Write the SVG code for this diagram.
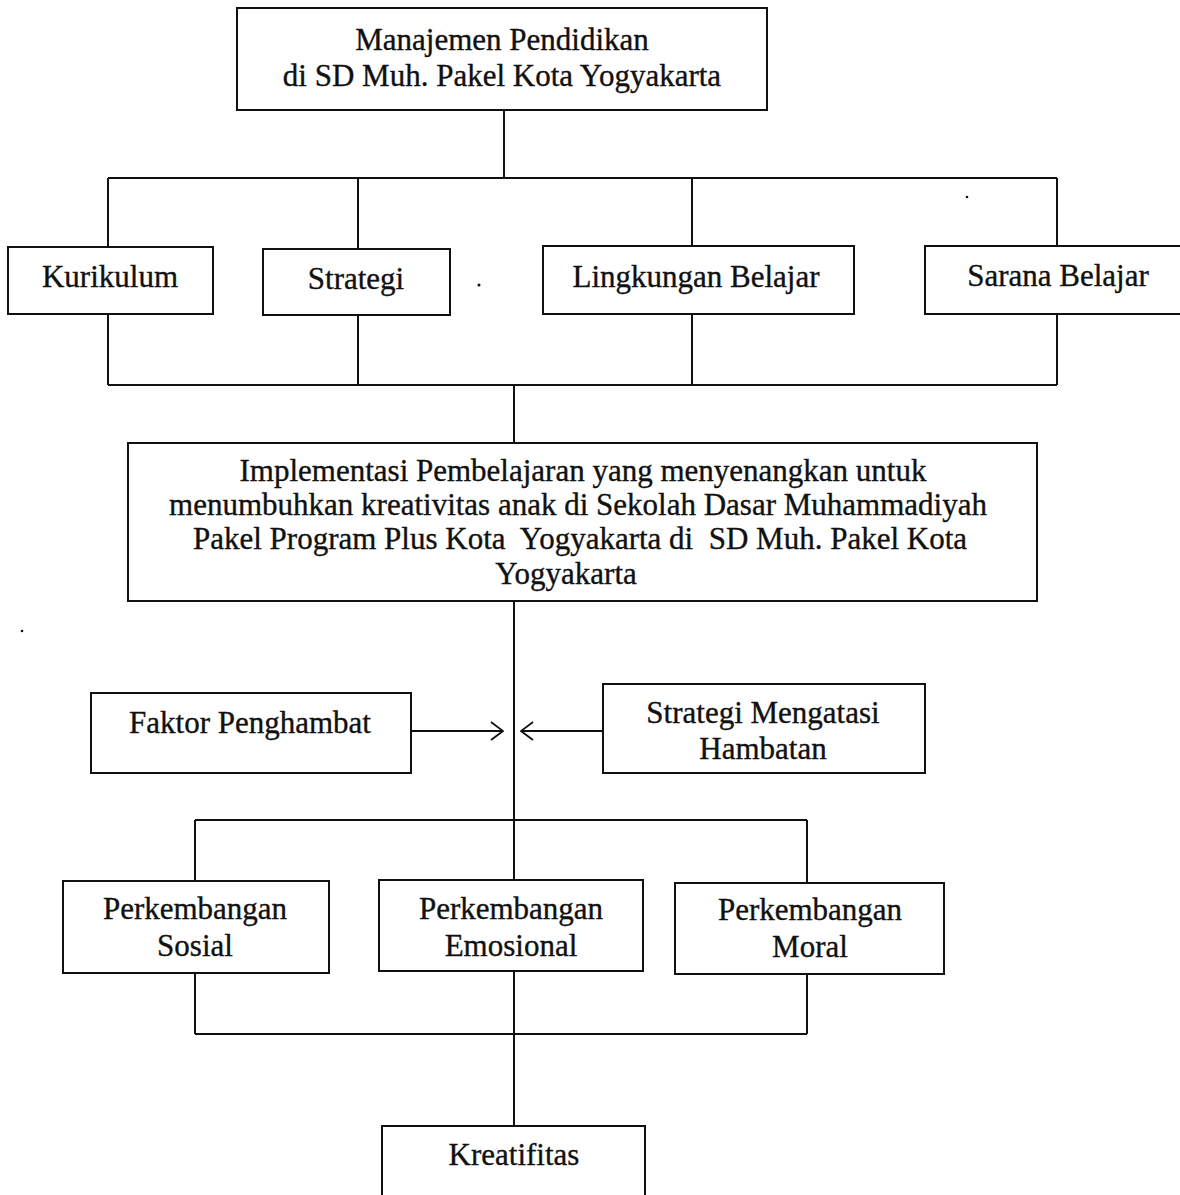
<svg xmlns="http://www.w3.org/2000/svg" width="1180" height="1195" viewBox="0 0 1180 1195">
<style>
.box{fill:#fff;stroke:#111;stroke-width:2}
.t{font-family:"Liberation Serif","Times New Roman",serif;font-size:31px;fill:#111;stroke:#111;stroke-width:0.35;text-anchor:middle;white-space:pre}
.c{fill:none;stroke:#111;stroke-width:2}
</style>
<defs>
<marker id="arr" viewBox="0 0 14 20" refX="13" refY="10" markerWidth="14" markerHeight="20" markerUnits="userSpaceOnUse" orient="auto">
<path d="M1,1 L13,10 L1,19" fill="none" stroke="#111" stroke-width="1.8"/>
</marker>
</defs>
<rect width="1180" height="1195" fill="#fff"/>
<g id="connectors">
<path class="c" d="M504,110 V178 M108,178 H1057 M108,178 V247 M358,178 V249 M692,178 V246 M1057,178 V246"/>
<path class="c" d="M108,314 V385 M358,315 V385 M692,314 V385 M1057,314 V385 M108,385 H1057 M514,385 V443"/>
<path class="c" d="M514,601 V880 M195,820 H807 M195,820 V881 M807,820 V883"/>
<path class="c" d="M195,973 V1034 M514,971 V1126 M807,974 V1034 M195,1034 H807"/>
<path class="c" d="M411,731 H503" marker-end="url(#arr)"/>
<path class="c" d="M603,731 H521" marker-end="url(#arr)"/>
</g>
<g id="n-manajemen">
<rect class="box" x="237" y="8" width="530" height="102"/>
<text class="t" x="502" y="50">Manajemen Pendidikan</text>
<text class="t" x="502" y="86">di SD Muh. Pakel Kota Yogyakarta</text>
</g>
<g id="n-kurikulum">
<rect class="box" x="8" y="247" width="205" height="67"/>
<text class="t" x="110" y="287">Kurikulum</text>
</g>
<g id="n-strategi">
<rect class="box" x="263" y="249" width="187" height="66"/>
<text class="t" x="356" y="289">Strategi</text>
</g>
<g id="n-lingkungan">
<rect class="box" x="543" y="246" width="311" height="68"/>
<text class="t" x="696" y="287">Lingkungan Belajar</text>
</g>
<g id="n-sarana">
<rect class="box" x="925" y="246" width="262" height="68"/>
<text class="t" x="1058" y="286">Sarana Belajar</text>
</g>
<g id="n-implementasi">
<rect class="box" x="128" y="443" width="909" height="158"/>
<text class="t" x="583" y="481">Implementasi Pembelajaran yang menyenangkan untuk</text>
<text class="t" x="578" y="515">menumbuhkan kreativitas anak di Sekolah Dasar Muhammadiyah</text>
<text class="t" x="580" y="549">Pakel Program Plus Kota  Yogyakarta di  SD Muh. Pakel Kota</text>
<text class="t" x="566" y="584">Yogyakarta</text>
</g>
<g id="n-faktor">
<rect class="box" x="91" y="693" width="320" height="80"/>
<text class="t" x="250" y="733">Faktor Penghambat</text>
</g>
<g id="n-strategi-mengatasi">
<rect class="box" x="603" y="684" width="322" height="89"/>
<text class="t" x="763" y="723">Strategi Mengatasi</text>
<text class="t" x="763" y="759">Hambatan</text>
</g>
<g id="n-sosial">
<rect class="box" x="63" y="881" width="266" height="92"/>
<text class="t" x="195" y="919">Perkembangan</text>
<text class="t" x="195" y="956">Sosial</text>
</g>
<g id="n-emosional">
<rect class="box" x="379" y="880" width="264" height="91"/>
<text class="t" x="511" y="919">Perkembangan</text>
<text class="t" x="511" y="956">Emosional</text>
</g>
<g id="n-moral">
<rect class="box" x="675" y="883" width="269" height="91"/>
<text class="t" x="810" y="920">Perkembangan</text>
<text class="t" x="810" y="957">Moral</text>
</g>
<g id="n-kreatifitas">
<rect class="box" x="382" y="1126" width="263" height="80"/>
<text class="t" x="514" y="1165">Kreatifitas</text>
</g>
<g id="specks">
<circle cx="479" cy="285" r="1.5" fill="#111"/>
<circle cx="967" cy="197" r="1.3" fill="#111"/>
<circle cx="22" cy="631" r="1.3" fill="#111"/>
</g>
</svg>
